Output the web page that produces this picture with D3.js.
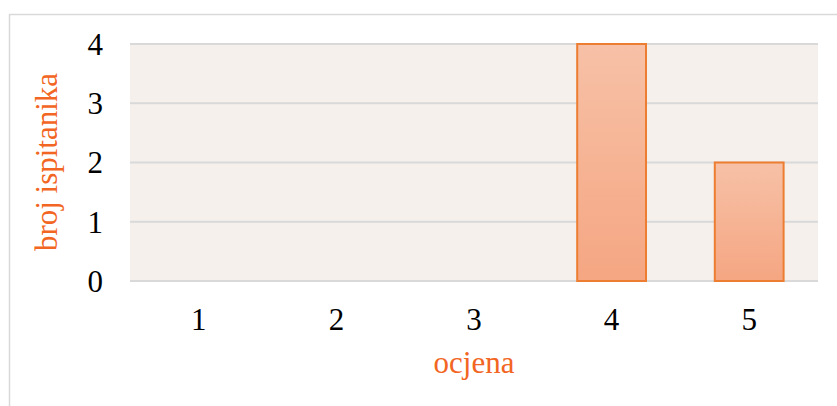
<!DOCTYPE html>
<html>
<head>
<meta charset="utf-8">
<script src="https://cdn.jsdelivr.net/npm/d3@7"></script>
<style>
  body { margin: 0; background: #fff; }
  text { font-family: "Liberation Serif", "Times New Roman", serif; }
</style>
</head>
<body>
<div id="chart"></div>
<script>
const categories = ['1', '2', '3', '4', '5'];
const values = [0, 0, 0, 4, 2];
const yTicks = [0, 1, 2, 3, 4];

const w = 837;
const h = 406;
const margin = { top: 44, right: 19, bottom: 125, left: 130 };

const svg = d3.select('#chart')
  .append('svg')
  .attr('width', w)
  .attr('height', h);

// chart frame
svg.append('rect')
  .attr('x', 9.5)
  .attr('y', 14.5)
  .attr('width', w)
  .attr('height', h)
  .attr('fill', 'none')
  .attr('stroke', '#d9d9d9')
  .attr('stroke-width', 1.5);

const defs = svg.append('defs');
const grad = defs.append('linearGradient')
  .attr('id', 'barGrad')
  .attr('x1', 0).attr('y1', 0)
  .attr('x2', 0).attr('y2', 1);
grad.append('stop').attr('offset', '0%').attr('stop-color', '#f7c1a7');
grad.append('stop').attr('offset', '100%').attr('stop-color', '#f5a682');

const x = d3.scaleBand()
  .domain(categories)
  .range([margin.left, w - margin.right])
  .paddingInner(0.5)
  .paddingOuter(0.25);

const y = d3.scaleLinear()
  .domain([0, 4])
  .range([h - margin.bottom, margin.top]);

// plot background
svg.append('rect')
  .attr('x', margin.left)
  .attr('y', margin.top)
  .attr('width', w - margin.left - margin.right)
  .attr('height', h - margin.top - margin.bottom)
  .attr('fill', '#f5f0ec');

// gridlines
svg.append('g')
  .selectAll('line')
  .data(yTicks)
  .enter()
  .append('line')
  .attr('x1', margin.left)
  .attr('x2', w - margin.right)
  .attr('y1', d => y(d))
  .attr('y2', d => y(d))
  .attr('stroke', '#d9d9d9')
  .attr('stroke-width', 2);

// bars
svg.append('g')
  .selectAll('rect')
  .data(values.map((v, i) => ({ name: categories[i], value: v })).filter(d => d.value > 0))
  .enter()
  .append('rect')
  .attr('x', d => x(d.name))
  .attr('y', d => y(d.value))
  .attr('width', x.bandwidth())
  .attr('height', d => y(0) - y(d.value))
  .attr('fill', 'url(#barGrad)')
  .attr('stroke', '#ed7d31')
  .attr('stroke-width', 2);

// y tick labels
svg.append('g')
  .selectAll('text')
  .data(yTicks)
  .enter()
  .append('text')
  .attr('x', 103)
  .attr('y', d => y(d))
  .attr('dy', '0.35em')
  .attr('text-anchor', 'end')
  .attr('font-size', 31)
  .attr('fill', '#000')
  .text(d => d);

// x tick labels
svg.append('g')
  .selectAll('text')
  .data(categories)
  .enter()
  .append('text')
  .attr('x', d => x(d) + x.bandwidth() / 2)
  .attr('y', y(0) + 49)
  .attr('text-anchor', 'middle')
  .attr('font-size', 31)
  .attr('fill', '#000')
  .text(d => d);

// axis titles
svg.append('text')
  .attr('x', (margin.left + w - margin.right) / 2)
  .attr('y', 373)
  .attr('text-anchor', 'middle')
  .attr('font-size', 31)
  .attr('fill', '#f26522')
  .text('ocjena');

svg.append('text')
  .attr('transform', 'translate(57,162) rotate(-90)')
  .attr('text-anchor', 'middle')
  .attr('font-size', 31)
  .attr('fill', '#f26522')
  .text('broj ispitanika');
</script>
</body>
</html>
